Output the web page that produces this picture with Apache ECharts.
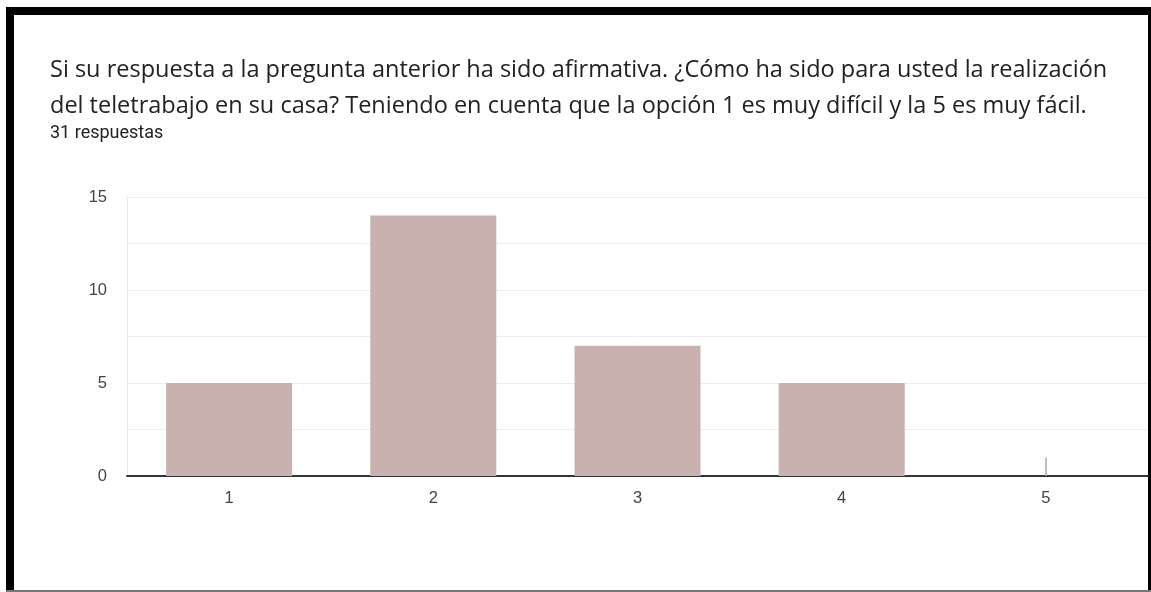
<!DOCTYPE html>
<html>
<head>
<meta charset="utf-8">
<script src="https://cdn.jsdelivr.net/npm/echarts@6/dist/echarts.min.js"></script>
<style>
  html, body { margin: 0; padding: 0; background: #fff; }
  #chart { width: 1151px; height: 592px; }
</style>
</head>
<body>
<div id="chart"></div>
<script>
// respuestas por opción (1 = muy difícil, 5 = muy fácil)
const categories = ['1', '2', '3', '4', '5'];
const counts = [5, 14, 7, 5, 0];
const yTicks = [0, 5, 10, 15];

const titleText = 'Si su respuesta a la pregunta anterior ha sido afirmativa. ¿Cómo ha sido para usted la realización\n' +
  'del teletrabajo en su casa? Teniendo en cuenta que la opción 1 es muy difícil y la 5 es muy fácil.';
const subText = '31 respuestas';

const myChart = echarts.init(document.getElementById('chart'));

const option = {
  backgroundColor: '#fff',
  animation: false,
  title: [
    {
      text: titleText,
      left: 45,
      top: 47,
      textStyle: {
        fontFamily: 'Open Sans',
        fontSize: 23.5,
        fontWeight: 'normal',
        color: '#202124',
        lineHeight: 36
      }
    },
    {
      text: subText,
      left: 45,
      top: 119,
      textStyle: {
        fontFamily: 'Roboto',
        fontSize: 18,
        fontWeight: 'normal',
        color: '#202124'
      }
    }
  ],
  graphic: [
    { type: 'rect', shape: { x: 6, y: 7, width: 1145, height: 8 }, style: { fill: '#000' } },
    { type: 'rect', shape: { x: 6, y: 7, width: 8, height: 585 }, style: { fill: '#000' } },
    { type: 'rect', shape: { x: 1148, y: 7, width: 3, height: 585 }, style: { fill: '#000' } },
    { type: 'rect', shape: { x: 6, y: 590, width: 1145, height: 2 }, style: { fill: '#777' } }
  ],
  grid: { left: 127, right: 3, top: 197, bottom: 116 },
  xAxis: {
    type: 'category',
    data: categories,
    axisLine: { lineStyle: { color: '#333', width: 2 } },
    axisTick: { show: false },
    axisLabel: { color: '#444', fontFamily: 'Arial', fontSize: 16.5, margin: 14 }
  },
  yAxis: {
    type: 'value',
    min: 0,
    max: 15,
    interval: 2.5,
    axisLine: { show: true, lineStyle: { color: '#e8e8e8', width: 1 } },
    axisTick: { show: false },
    splitLine: { lineStyle: { color: '#ededed', width: 1 } },
    axisLabel: {
      color: '#444',
      fontFamily: 'Arial',
      fontSize: 16.5,
      margin: 20,
      formatter: v => (yTicks.includes(v) ? String(v) : '')
    }
  },
  series: [
    {
      type: 'bar',
      data: counts,
      barWidth: 126,
      itemStyle: { color: '#c8b1af' },
      markLine: {
        silent: true,
        symbol: 'none',
        label: { show: false },
        lineStyle: { color: '#aaa', width: 1.5, type: 'solid' },
        data: [[{ coord: ['5', 0] }, { coord: ['5', 1] }]]
      }
    }
  ]
};

myChart.setOption(option);
window.addEventListener('resize', () => {
  myChart.resize();
});
</script>
</body>
</html>
